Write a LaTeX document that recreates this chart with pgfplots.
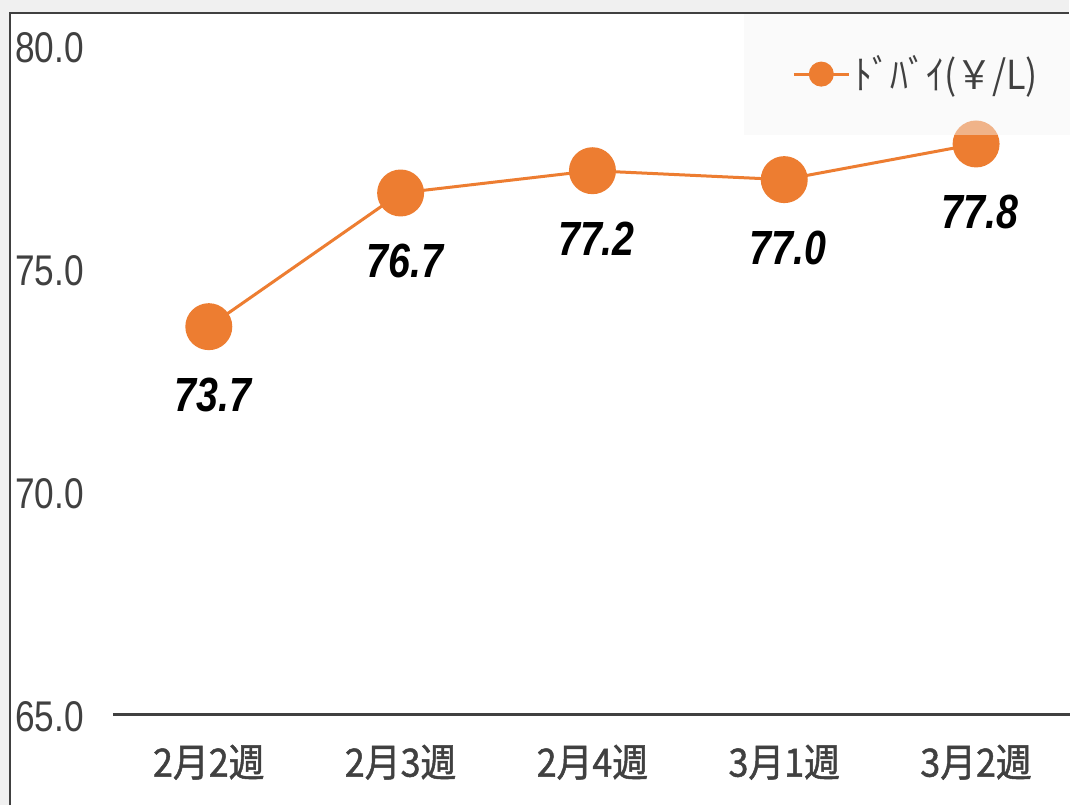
\documentclass[border=0pt]{standalone}
\usepackage{fontspec}
\usepackage{pgfplots}
\pgfplotsset{compat=1.18}
\setmainfont{Noto Sans CJK JP}
\newfontfamily\jpfont[FakeStretch=0.9]{Noto Sans CJK JP}
\newfontfamily\jpbfont[FakeStretch=0.92,FakeBold=1.2]{Noto Sans CJK JP}
\newfontfamily\numfont[FakeStretch=0.82]{Liberation Sans}
\definecolor{myorange}{HTML}{ED7D31}
\definecolor{txt}{HTML}{404040}
\definecolor{outerbg}{HTML}{F0F0F0}
\definecolor{legbg}{HTML}{F5F5F5}
\begin{document}
\begin{tikzpicture}
\fill[outerbg] (0,0) rectangle (535pt,403pt);
\fill[white] (5pt,0) rectangle (535pt,396.5pt);
\draw[txt, line width=1pt] (5pt,0) -- (5pt,396.5pt) -- (535pt,396.5pt);
\useasboundingbox (0,0) rectangle (535pt,403pt);
\begin{axis}[
  at={(56.5pt,45.5pt)}, anchor=south west,
  scale only axis, width=480pt, height=334.5pt,
  xmin=-0.5, xmax=4.5, ymin=65, ymax=80,
  axis x line*=bottom, axis y line*=left,
  x axis line style={draw=txt, line width=1.5pt, -},
  y axis line style={draw=none},
  major tick length=0pt,
  xtick={0,1,2,3,4},
  xticklabels={2月2週,2月3週,2月4週,3月1週,3月2週},
  ytick={65,70,75,80},
  /pgf/number format/assume math mode=true,
  yticklabel={\pgfmathprintnumber[fixed,fixed zerofill,precision=1]{\tick}},
  yticklabel style={anchor=west, inner sep=0pt, xshift=-49pt, yshift=-1pt, text=txt,
    font=\numfont\fontsize{21.5}{21.5}\selectfont},
  xticklabel style={anchor=center, yshift=-24pt, text=txt,
    font=\jpbfont\fontsize{19.5}{19.5}\selectfont},
  legend style={at={(axis description cs:0.658,1.049)}, anchor=north west,
    fill=legbg, fill opacity=0.45, text opacity=1, draw=none,
    inner xsep=24pt, inner ysep=19pt,
    font=\jpfont\fontsize{20}{20}\selectfont, text=txt},
  legend image code/.code={
    \draw[myorange, line width=1.5pt, opacity=1] (0pt,0pt) -- (27.5pt,0pt);
    \fill[myorange, opacity=1] (13.75pt,0pt) circle (5.5pt);
  },
  nodes near coords={\pgfmathprintnumber[fixed,fixed zerofill,precision=1]{\pgfplotspointmeta}},
  nodes near coords style={font=\numfont\bfseries\itshape\fontsize{24}{24}\selectfont,
    text=black, anchor=center, yshift=-34pt, xshift=2pt},
  clip=false,
]
\addplot[myorange, line width=1.5pt, mark=*, mark size=11pt,
  mark options={fill=myorange, draw=myorange}] coordinates {
  (0,73.7) (1,76.7) (2,77.2) (3,77.0) (4,77.8)
};
\addlegendentry{ﾄﾞﾊﾞｲ(￥/L)}
\end{axis}
\end{tikzpicture}
\end{document}
